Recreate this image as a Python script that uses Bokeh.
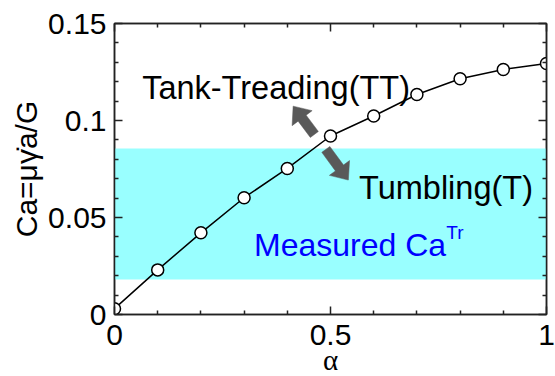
import math
from bokeh.plotting import figure
from bokeh.models import (LinearAxis, Range1d, BoxAnnotation, Label, FixedTicker,
                          PrintfTickFormatter, CustomLabelingPolicy)
from bokeh.embed import file_html
from bokeh.resources import INLINE

# ---- data ----
alpha = [0.0, 0.1, 0.2, 0.3, 0.4, 0.5, 0.6, 0.7, 0.8, 0.9, 1.0]
ca = [0.003, 0.023, 0.0421, 0.0602, 0.0753, 0.0920, 0.1023, 0.1134, 0.1215, 0.1263, 0.1294]
band_low = 0.018
band_high = 0.0856
x_major = [0, 0.5, 1]
x_minor = [0.1, 0.2, 0.3, 0.4, 0.6, 0.7, 0.8, 0.9]
y_major = [0, 0.05, 0.1, 0.15]
y_minor = [0.01, 0.02, 0.03, 0.04, 0.06, 0.07, 0.08, 0.09, 0.11, 0.12, 0.13, 0.14]

# arrow annotations (tail -> tip, data units)
arrow_tt = (0.4626, 0.0928, 0.4135, 0.1074)
arrow_t = (0.4892, 0.0851, 0.5413, 0.0693)

FONT = "Liberation Sans"
FW, FH = 432, 291
X0, X1, Y0, Y1 = 0.0, 1.0, 0.0, 0.15

p = figure(frame_width=FW, frame_height=FH,
           min_border_left=114, min_border_right=9, min_border_top=21, min_border_bottom=64,
           x_range=Range1d(X0, X1), y_range=Range1d(Y0, Y1),
           output_backend="svg", toolbar_location=None, x_axis_location=None,
           y_axis_location=None)
p.xgrid.visible = False
p.ygrid.visible = False
p.outline_line_color = "#222222"
p.outline_line_width = 1.5
p.background_fill_color = "white"
p.border_fill_color = "white"

xt = FixedTicker(ticks=x_major, minor_ticks=x_minor)
yt = FixedTicker(ticks=y_major, minor_ticks=y_minor)

def style(ax, show):
    ax.axis_line_color = "#222222"
    ax.axis_line_width = 1.5
    ax.major_tick_line_color = "#222222"
    ax.minor_tick_line_color = "#222222"
    ax.major_tick_line_width = 1.5
    ax.minor_tick_line_width = 1.5
    ax.major_tick_in = 8
    ax.major_tick_out = 0
    ax.minor_tick_in = 4
    ax.minor_tick_out = 0
    ax.formatter = PrintfTickFormatter(format="%g")
    ax.major_label_text_font = FONT
    ax.major_label_text_font_size = "30px"
    ax.major_label_text_color = "black"
    if not show:
        ax.major_label_policy = CustomLabelingPolicy(
            code="for (const i of indices) { indices.unset(i) } return indices")
        ax.major_label_standoff = 0

xb = LinearAxis(ticker=xt, axis_label="α")
style(xb, True)
xb.major_label_standoff = 10
xb.axis_label_text_font = "Liberation Serif"
xb.axis_label_text_font_style = "normal"
xb.axis_label_text_font_size = "29px"
xb.axis_label_text_color = "black"
xb.axis_label_standoff = -4
p.add_layout(xb, "below")

yl = LinearAxis(ticker=yt, axis_label="Ca=μγ̇a/G")
style(yl, True)
yl.major_label_standoff = 8
yl.axis_label_text_font = FONT
yl.axis_label_text_font_style = "normal"
yl.axis_label_text_font_size = "30px"
yl.axis_label_text_color = "black"
yl.axis_label_standoff = 2
p.add_layout(yl, "left")

xtop = LinearAxis(ticker=xt)
style(xtop, False)
p.add_layout(xtop, "above")
yr = LinearAxis(ticker=yt)
style(yr, False)
p.add_layout(yr, "right")

# measured band
p.add_layout(BoxAnnotation(bottom=band_low, top=band_high, fill_color="#99FFFF",
                           fill_alpha=1.0, line_alpha=0, level="underlay"))

# curve
p.line(alpha, ca, line_color="black", line_width=1.5)
p.scatter(alpha, ca, marker="circle", size=12, fill_color="white",
          line_color="black", line_width=1.5)

# block arrows built in pixel space, converted back through the frame scale
sx = FW / (X1 - X0)
sy = FH / (Y1 - Y0)

def block_arrow(x0, y0, x1, y1, shaft=10.0, head_w=25.0, head_l=15.0):
    X0p, Y0p, X1p, Y1p = x0 * sx, y0 * sy, x1 * sx, y1 * sy
    L = math.hypot(X1p - X0p, Y1p - Y0p)
    ux, uy = (X1p - X0p) / L, (Y1p - Y0p) / L
    nx, ny = -uy, ux
    bx, by = X1p - ux * head_l, Y1p - uy * head_l
    pts = [
        (X0p + nx * shaft / 2, Y0p + ny * shaft / 2),
        (bx + nx * shaft / 2, by + ny * shaft / 2),
        (bx + nx * head_w / 2, by + ny * head_w / 2),
        (X1p, Y1p),
        (bx - nx * head_w / 2, by - ny * head_w / 2),
        (bx - nx * shaft / 2, by - ny * shaft / 2),
        (X0p - nx * shaft / 2, Y0p - ny * shaft / 2),
    ]
    return [q[0] / sx for q in pts], [q[1] / sy for q in pts]

AC = "#595959"
for a in (arrow_tt, arrow_t):
    xs, ys = block_arrow(*a)
    p.patch(xs, ys, fill_color=AC, line_color=AC, line_width=0.5)

# texts
p.add_layout(Label(x=0.064, y=0.1169, text="Tank-Treading(TT)", text_font=FONT,
                   text_font_size="32.5px", text_color="black", text_baseline="alphabetic"))
p.add_layout(Label(x=0.566, y=0.0653, text="Tumbling(T)", text_font=FONT,
                   text_font_size="32.5px", text_color="black", text_baseline="alphabetic"))
p.add_layout(Label(x=0.323, y=0.0356, text="Measured Ca", text_font=FONT,
                   text_font_size="32px", text_color="#0000FF", text_baseline="alphabetic"))
p.add_layout(Label(x=0.768, y=0.0425, text="Tr", text_font=FONT,
                   text_font_size="19px", text_color="#0000FF", text_baseline="alphabetic"))

open("out.html", "w").write(file_html(p, INLINE))
